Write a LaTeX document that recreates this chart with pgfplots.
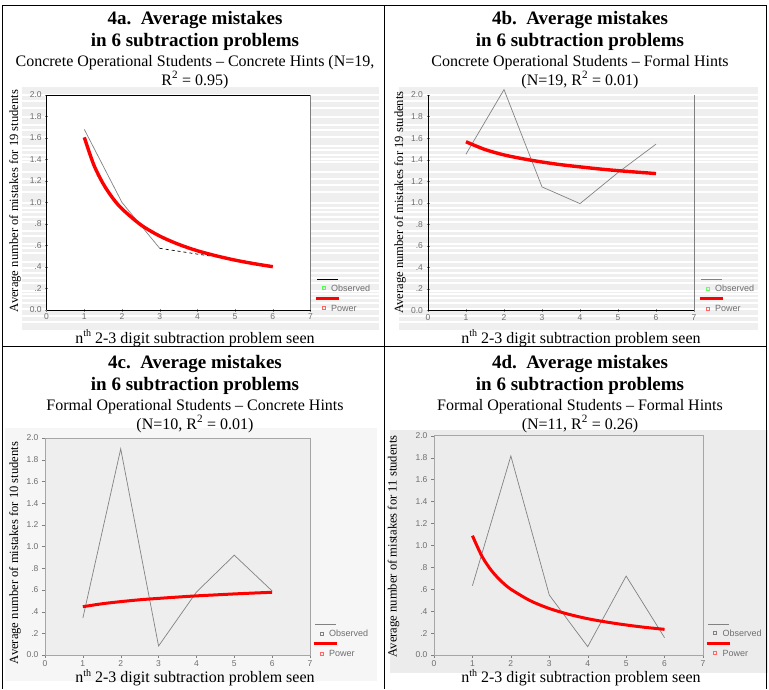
\documentclass[border=0pt]{standalone}
\usepackage{fontspec}
\setmainfont{Liberation Serif}
\setsansfont{Liberation Sans}
\usepackage{pgfplots}
\pgfplotsset{compat=1.18}

\definecolor{bgAB}{RGB}{239,239,239}
\definecolor{bgC}{RGB}{246,246,246}
\definecolor{bgCin}{RGB}{238,238,238}
\definecolor{bgD}{RGB}{236,236,236}
\definecolor{obsline}{RGB}{130,130,130}
\definecolor{lblgray}{RGB}{110,110,110}

\pgfplotsset{
  panel/.style={
    scale only axis, clip=false,
    xmin=0, xmax=7, ymin=0, ymax=2,
    xtick={0,1,2,3,4,5,6,7},
    ytick={0,0.2,0.4,0.6,0.8,1,1.2,1.4,1.6,1.8,2},
    yticklabels={0.0,.2,.4,.6,.8,1.0,1.2,1.4,1.6,1.8,2.0},
    tick align=outside, major tick length=3pt,
    xtick pos=left, ytick pos=left,
    ticklabel style={font=\sffamily\fontsize{8.5}{9}\selectfont, text=lblgray},
    /pgf/number format/assume math mode=true,
    xticklabel style={yshift=1pt},
  },
  obs/.style={obsline, line width=0.7pt, mark=none},
  pow/.style={red, line width=3.4pt, mark=none, smooth},
}

\begin{document}
\begin{tikzpicture}
\path[use as bounding box] (0,0) rectangle (769pt,-689pt);
\fill[white] (0,0) rectangle (769pt,-689pt);

% grey chart backgrounds (the top two are striped)
\begin{scope}[x=1pt,y=-1pt]
  \fill[bgAB] (22,87) rectangle (379,330);
  \fill[bgAB] (399,87) rectangle (758,330);
  \foreach \sy in {95,101,108,117,125,130,137,146,150,155,159,162,172,179,185,192,203,208,212,217,222,231,236,244,248,253,262,268,273,278,283,291,294,298,303,309,316,322} {
    \draw[white, line width=1.1pt] (22,\sy) -- (379,\sy);
    \draw[white, line width=1.1pt] (399,\sy) -- (758,\sy);
  }
  \fill[bgC] (5,428) rectangle (377,681);
  \fill[bgD] (390,430) rectangle (768,673);
\end{scope}

% 4a
\begin{axis}[panel, at={(46.6pt,-310pt)}, anchor=south west,
  width=263.9pt, height=215pt,
  axis lines=left, axis line style={-, black, line width=0.6pt},
  axis background/.style={fill=white}]
\addplot[obs] coordinates {(1,1.68) (2,1.00) (3,0.574)};
\addplot[black, dashed, line width=0.7pt] coordinates {(3,0.574) (4,0.52) (5,0.47) (6,0.41)};
\addplot[pow] coordinates {(1,1.606) (1.25,1.352) (1.5,1.175) (1.75,1.043) (2,0.941) (2.5,0.792) (3,0.688) (3.5,0.611) (4,0.551) (4.5,0.504) (5,0.464) (5.5,0.431) (6,0.403)};
\draw[black, line width=0.6pt] (axis cs:0,2) -- (axis cs:7,2);
\draw[gray, line width=0.8pt] (axis cs:7,0) -- (axis cs:7,2);
\end{axis}

% 4b
\begin{axis}[panel, at={(428pt,-310.5pt)}, anchor=south west,
  width=266pt, height=215.5pt,
  axis lines=left, axis line style={-, black, line width=0.6pt}]
\addplot[obs] coordinates {(1,1.451) (2,2.05) (3,1.147) (4,0.992) (5,1.28) (6,1.544)};
\addplot[pow] coordinates {(1,1.566) (1.5,1.494) (2,1.444) (2.5,1.408) (3,1.378) (3.5,1.353) (4,1.333) (4.5,1.314) (5,1.298) (5.5,1.284) (6,1.271)};
\draw[gray, line width=0.8pt] (axis cs:7,0) -- (axis cs:7,2);
\end{axis}

% 4c
\begin{axis}[panel, at={(45pt,-655pt)}, anchor=south west,
  width=265pt, height=217pt,
  axis line style={gray!70, line width=0.8pt},
  axis background/.style={fill=bgCin}]
\addplot[obs] coordinates {(1,0.34) (2,1.90) (3,0.083) (4,0.58) (5,0.92) (6,0.59)};
\addplot[pow, line width=3pt] coordinates {(1,0.445) (1.5,0.472) (2,0.492) (2.5,0.509) (3,0.522) (3.5,0.534) (4,0.545) (4.5,0.554) (5,0.563) (5.5,0.571) (6,0.578)};
\end{axis}

% 4d
\begin{axis}[panel, at={(434pt,-655pt)}, anchor=south west,
  width=269pt, height=219.3pt,
  axis line style={gray!70, line width=0.8pt},
  axis background/.style={fill=bgD}]
\addplot[obs] coordinates {(1,0.632) (2,1.815) (3,0.547) (4,0.076) (5,0.72) (6,0.158)};
\addplot[pow, line width=3pt] coordinates {(1,1.088) (1.25,0.899) (1.5,0.768) (1.75,0.673) (2,0.600) (2.5,0.496) (3,0.424) (3.5,0.372) (4,0.331) (4.5,0.300) (5,0.274) (5.5,0.252) (6,0.234)};
\end{axis}

\begin{scope}[x=1pt,y=-1pt]
  \tikzset{
    ttl/.style={anchor=base, font=\bfseries\fontsize{19}{20}\selectfont, inner sep=0pt},
    sub/.style={anchor=base, font=\fontsize{16}{17}\selectfont, inner sep=0pt},
    ylab/.style={rotate=90, font=\fontsize{12.6}{13}\selectfont, inner sep=0pt},
    leg/.style={anchor=base west, font=\sffamily\fontsize{9}{10}\selectfont, text=lblgray, inner sep=0pt},
  }
  \newcommand\nth{n\raisebox{6.5pt}{\fontsize{10}{10}\selectfont th}}
  % titles, row 1
  \node[ttl] at (195,24.3) {4a.\ \ Average mistakes};
  \node[ttl] at (195,46.7) {in 6 subtraction problems};
  \node[sub] at (195,66.7) {Concrete Operational Students -- Concrete Hints (N=19,};
  \node[sub] at (195,85) {R\textsuperscript{2} = 0.95)};
  \node[ttl] at (580,24.3) {4b.\ \ Average mistakes};
  \node[ttl] at (580,46.7) {in 6 subtraction problems};
  \node[sub] at (580,66.7) {Concrete Operational Students -- Formal Hints};
  \node[sub] at (580,85) {(N=19, R\textsuperscript{2} = 0.01)};
  % titles, row 2
  \node[ttl] at (195,368.3) {4c.\ \ Average mistakes};
  \node[ttl] at (195,390.7) {in 6 subtraction problems};
  \node[sub] at (195,410.7) {Formal Operational Students -- Concrete Hints};
  \node[sub] at (195,429) {(N=10, R\textsuperscript{2} = 0.01)};
  \node[ttl] at (580,368.3) {4d.\ \ Average mistakes};
  \node[ttl] at (580,390.7) {in 6 subtraction problems};
  \node[sub] at (580,410.7) {Formal Operational Students -- Formal Hints};
  \node[sub] at (580,429) {(N=11, R\textsuperscript{2} = 0.26)};
  % x labels
  \node[sub] at (195,343) {\nth{} 2-3 digit subtraction problem seen};
  \node[sub] at (581,343) {\nth{} 2-3 digit subtraction problem seen};
  \node[sub] at (195,682.5) {\nth{} 2-3 digit subtraction problem seen};
  \node[sub] at (581,682.5) {\nth{} 2-3 digit subtraction problem seen};
  % y labels
  \node[ylab] at (15,201) {Average number of mistakes for 19 students};
  \node[ylab] at (400,202.5) {Average number of mistakes for 19 students};
  \node[ylab] at (15,553) {Average number of mistakes for 10 students};
  \node[ylab] at (393.5,546.5) {Average number of mistakes for 11 students};
  % legends
  \foreach \lx/\ly/\lc/\mc in {317/279/black/green!70, 701/279.3/obsline/green!60, 315/624.3/obsline/gray, 708.3/624/obsline/gray} {
    \draw[\lc, line width=0.7pt] (\lx,\ly) -- (\lx+21,\ly);
    \draw[\mc, line width=0.5pt] (\lx+5,\ly+7.5) rectangle (\lx+8,\ly+10.5);
    \node[leg] at (\lx+14,\ly+12) {Observed};
    \draw[red, line width=2.8pt] (\lx-1.5,\ly+19.5) -- (\lx+22,\ly+19.5);
    \draw[red!60, line width=0.5pt] (\lx+5,\ly+27.5) rectangle (\lx+8,\ly+30.5);
    \node[leg] at (\lx+14,\ly+32) {Power};
  }
  % table rules
  \draw[black, line width=1.2pt] (2,5.5) -- (767,5.5);
  \draw[black, line width=1.2pt] (2.5,5.5) -- (2.5,689);
  \draw[black, line width=1.2pt] (766.5,5.5) -- (766.5,689);
  \draw[black, line width=1.5pt] (384.5,5.5) -- (384.5,689);
  \draw[black, line width=1.2pt] (2.5,346.5) -- (766.5,346.5);
\end{scope}
\end{tikzpicture}
\end{document}
